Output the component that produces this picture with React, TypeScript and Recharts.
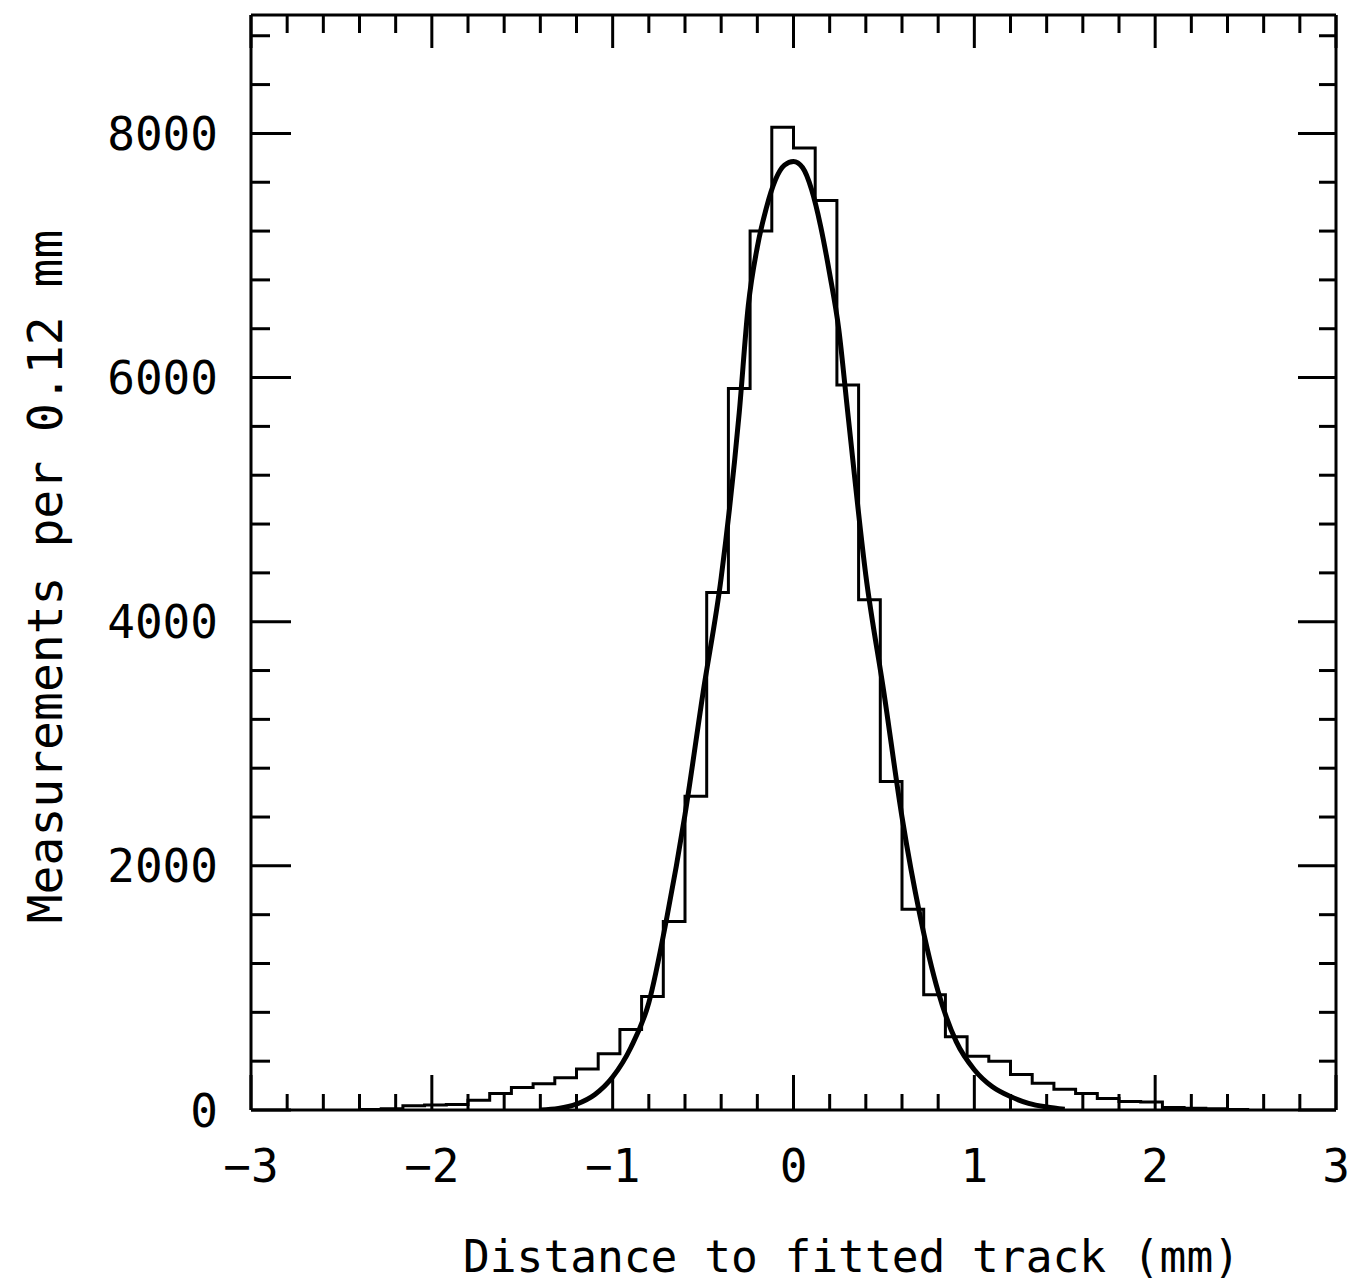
import React from 'react';
import { ComposedChart, Line, XAxis, YAxis } from 'recharts';

// histogram: bin edges (0.12 mm wide) and counts per bin
const binEdges = [
  -2.4, -2.28, -2.16, -2.04, -1.92, -1.8, -1.68, -1.56, -1.44, -1.32, -1.2, -1.08, -0.96, -0.84,
  -0.72, -0.6, -0.48, -0.36, -0.24, -0.12, 0, 0.12, 0.24, 0.36, 0.48, 0.6, 0.72, 0.84, 0.96, 1.08,
  1.2, 1.32, 1.44, 1.56, 1.68, 1.8, 1.92, 2.04, 2.16, 2.28, 2.4, 2.52,
];
const binCounts = [
  5, 10, 35, 40, 45, 80, 135, 185, 215, 265, 335, 460, 660, 930, 1545, 2570, 4240, 5910, 7200,
  8050, 7880, 7450, 5940, 4180, 2690, 1645, 945, 600, 440, 400, 290, 220, 170, 135, 95, 70, 65,
  20, 15, 10, 5,
];

// fitted curve
const fitX = [
  -1.4, -1.3, -1.2, -1.1, -1.0, -0.9, -0.8, -0.7, -0.6, -0.5, -0.4, -0.3, -0.25, -0.2, -0.15,
  -0.1, -0.05, 0, 0.05, 0.1, 0.15, 0.2, 0.25, 0.3, 0.4, 0.5, 0.6, 0.7, 0.8, 0.9, 1.0, 1.1, 1.2,
  1.3, 1.4, 1.5,
];
const fitY = [
  0, 12, 48, 125, 270, 510, 880, 1580, 2420, 3420, 4360, 5714, 6590, 7070, 7390, 7620, 7740,
  7770, 7720, 7540, 7240, 6850, 6400, 5714, 4380, 3420, 2400, 1590, 970, 560, 330, 190, 110, 55,
  25, 6,
];

const xTicks = [
  -3, -2.8, -2.6, -2.4, -2.2, -2, -1.8, -1.6, -1.4, -1.2, -1, -0.8, -0.6, -0.4, -0.2, 0, 0.2, 0.4,
  0.6, 0.8, 1, 1.2, 1.4, 1.6, 1.8, 2, 2.2, 2.4, 2.6, 2.8, 3,
];
const yTicks = [
  0, 400, 800, 1200, 1600, 2000, 2400, 2800, 3200, 3600, 4000, 4400, 4800, 5200, 5600, 6000, 6400,
  6800, 7200, 7600, 8000, 8400, 8800,
];
const yLabeled = [0, 2000, 4000, 6000, 8000];

const histData = binEdges.map((x, i) => ({ x, count: binCounts[Math.min(i, binCounts.length - 1)] }));
const fitData = fitX.map((x, i) => ({ x, fit: fitY[i] }));

const FONT = '"DejaVu Sans Mono", monospace';
const axisLine = { stroke: '#000', strokeWidth: 3 };

const fmtX = (v: number) => (v < 0 ? '\u2212' + Math.abs(v) : String(v));

function BottomTick({ x, y, payload }: any) {
  const major = Number.isInteger(payload.value);
  return (
    <g>
      <line x1={x} x2={x} y1={y} y2={y - (major ? 35 : 16)} stroke="#000" strokeWidth={3} />
      {major && (
        <text x={x} y={y + 72} textAnchor="middle" fontSize={46} fontFamily={FONT} fill="#000">
          {fmtX(payload.value)}
        </text>
      )}
    </g>
  );
}

function TopTick({ x, y, payload }: any) {
  const major = Number.isInteger(payload.value);
  return <line x1={x} x2={x} y1={y} y2={y + (major ? 33 : 18)} stroke="#000" strokeWidth={3} />;
}

function LeftTick({ x, y, payload }: any) {
  const major = yLabeled.includes(payload.value);
  return (
    <g>
      <line x1={x} x2={x + (major ? 40 : 19)} y1={y} y2={y} stroke="#000" strokeWidth={3} />
      {major && (
        <text x={x - 33} y={y} dy="0.36em" textAnchor="end" fontSize={46} fontFamily={FONT} fill="#000">
          {payload.value}
        </text>
      )}
    </g>
  );
}

function RightTick({ x, y, payload }: any) {
  const major = yLabeled.includes(payload.value);
  return <line x1={x} x2={x - (major ? 38 : 17)} y1={y} y2={y} stroke="#000" strokeWidth={3} />;
}

export default function App() {
  return (
    <div style={{ width: 1357, height: 1285, background: '#fff' }}>
      <style>{'body{margin:0}'}</style>
      <ComposedChart width={1357} height={1285} margin={{ top: 14, right: 20, bottom: 174, left: 250 }}>
        <XAxis
          xAxisId={0}
          type="number"
          dataKey="x"
          domain={[-3, 3]}
          allowDataOverflow
          ticks={xTicks}
          interval={0}
          height={1}
          tickSize={0}
          tickMargin={0}
          tickLine={false}
          axisLine={axisLine}
          tick={<BottomTick />}
          label={(p: any) => (
            <text
              x={p.viewBox.x + p.viewBox.width / 2 + 58}
              y={p.viewBox.y + 162}
              textAnchor="middle"
              fontSize={44.5}
              fontFamily={FONT}
              fill="#000"
            >
              Distance to fitted track (mm)
            </text>
          )}
        />
        <XAxis
          xAxisId="top"
          orientation="top"
          type="number"
          dataKey="x"
          domain={[-3, 3]}
          allowDataOverflow
          ticks={xTicks}
          interval={0}
          height={1}
          tickSize={0}
          tickMargin={0}
          tickLine={false}
          axisLine={axisLine}
          tick={<TopTick />}
        />
        <YAxis
          yAxisId={0}
          type="number"
          domain={[0, 8970]}
          allowDataOverflow
          ticks={yTicks}
          interval={0}
          width={1}
          tickSize={0}
          tickMargin={0}
          tickLine={false}
          axisLine={axisLine}
          tick={<LeftTick />}
          label={(p: any) => {
            const cx = p.viewBox.x - 188;
            const cy = p.viewBox.y + p.viewBox.height / 2 + 14;
            return (
              <text
                x={cx}
                y={cy}
                transform={`rotate(-90, ${cx}, ${cy})`}
                textAnchor="middle"
                fontSize={48}
                fontFamily={FONT}
                fill="#000"
              >
                Measurements per 0.12 mm
              </text>
            );
          }}
        />
        <YAxis
          yAxisId="right"
          orientation="right"
          type="number"
          domain={[0, 8970]}
          allowDataOverflow
          ticks={yTicks}
          interval={0}
          width={1}
          tickSize={0}
          tickMargin={0}
          tickLine={false}
          axisLine={axisLine}
          tick={<RightTick />}
        />
        <Line
          data={histData}
          dataKey="count"
          type="stepAfter"
          stroke="#000"
          strokeWidth={3}
          dot={false}
          activeDot={false}
          isAnimationActive={false}
        />
        <Line
          data={fitData}
          dataKey="fit"
          type="monotone"
          stroke="#000"
          strokeWidth={5}
          dot={false}
          activeDot={false}
          isAnimationActive={false}
        />
      </ComposedChart>
    </div>
  );
}
